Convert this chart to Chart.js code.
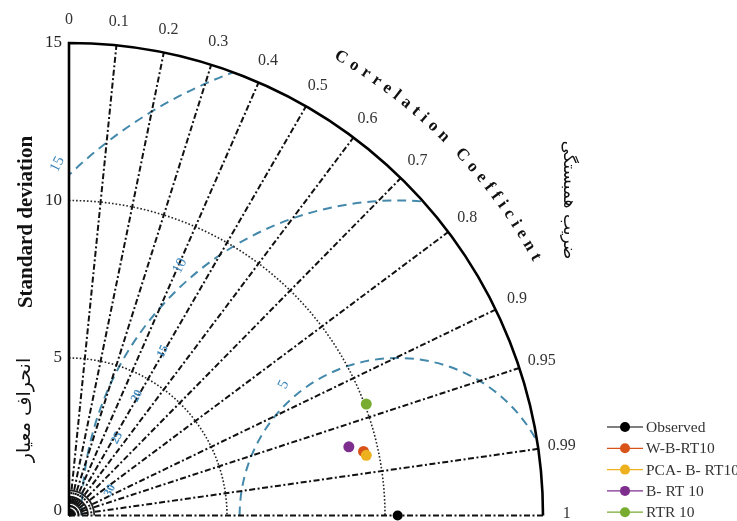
<!DOCTYPE html>
<html>
<head>
<meta charset="utf-8">
<script src="https://cdn.jsdelivr.net/npm/chart.js@4.4.1/dist/chart.umd.min.js"></script>
<style>
  html, body { margin: 0; padding: 0; background: #fff; }
  #wrap { width: 737px; height: 521px; }
</style>
</head>
<body>
<div id="wrap"><canvas id="taylor" width="737" height="521"></canvas></div>
<script>
// Taylor diagram data
const models = ['Observed', 'W-B-RT10', 'PCA- B- RT10', 'B- RT 10', 'RTR 10'];
const stdDevs = [10.4, 9.54, 9.60, 9.12, 10.05];
const correlations = [1, 0.977, 0.980, 0.971, 0.936];
const colors = ['#000000', '#D95319', '#EDB120', '#7E2F8E', '#77AC30'];
const drawOrder = [0, 2, 1, 0, 0];

const corrTicks = [0, 0.1, 0.2, 0.3, 0.4, 0.5, 0.6, 0.7, 0.8, 0.9, 0.95, 0.99, 1];
const stdTicks = [0, 5, 10, 15];
const stdArcs = [5, 10];
const rmsContours = [5, 10, 15];
const rmsLabels = ['5', '10', '15'];
const rmsLabelAngles = [131, 131, 134];
const extraRmsLabels = ['15', '20', '25', '30'];
const extraRmsPos = [[2.97, 5.21], [2.15, 3.79], [1.52, 2.46], [1.30, 0.79]];
const maxStd = 15;

const SERIF = '"Liberation Serif", "Times New Roman", serif';
const ARABIC = '"DejaVu Sans", sans-serif';

const datasets = models.map((name, i) => {
    const theta = Math.acos(correlations[i]);
    return {
        label: name,
        data: [{ x: stdDevs[i] * Math.cos(theta), y: stdDevs[i] * Math.sin(theta) }],
        backgroundColor: colors[i],
        borderColor: colors[i],
        pointRadius: i === 0 ? 5 : 5.5,
        pointBorderWidth: 0,
        order: drawOrder[i],
        clip: false
    };
});

// helper: polar (std, angle) -> pixel
function toPx(chart, r, ang) {
    const xs = chart.scales.x, ys = chart.scales.y;
    return [xs.getPixelForValue(r * Math.cos(ang)), ys.getPixelForValue(r * Math.sin(ang))];
}

const taylorGrid = {
    id: 'taylorGrid',
    beforeDatasetsDraw(chart) {
        const ctx = chart.ctx;
        const xs = chart.scales.x, ys = chart.scales.y;
        const ox = xs.getPixelForValue(0), oy = ys.getPixelForValue(0);
        const kx = xs.getPixelForValue(1) - ox, ky = oy - ys.getPixelForValue(1);

        ctx.save();
        // quarter-disc clip
        ctx.beginPath();
        ctx.moveTo(ox, oy);
        ctx.ellipse(ox, oy, maxStd * kx, maxStd * ky, 0, -Math.PI / 2, 0);
        ctx.closePath();
        ctx.save();
        ctx.clip();

        // RMS contours around the observed point
        const obs = stdDevs[0];
        ctx.strokeStyle = '#4489ab';
        ctx.lineWidth = 2;
        ctx.setLineDash([9, 6]);
        rmsContours.forEach(rr => {
            ctx.beginPath();
            ctx.ellipse(xs.getPixelForValue(obs), oy, rr * kx, rr * ky, 0, Math.PI, 2 * Math.PI);
            ctx.stroke();
        });
        ctx.restore();

        // std arcs (dotted)
        ctx.strokeStyle = '#222';
        ctx.lineWidth = 1.6;
        ctx.setLineDash([1.6, 2]);
        stdArcs.forEach(s => {
            ctx.beginPath();
            ctx.ellipse(ox, oy, s * kx, s * ky, 0, -Math.PI / 2, 0);
            ctx.stroke();
        });

        // small arcs near origin
        ctx.setLineDash([]);
        ctx.lineWidth = 1.8;
        [0.2, 0.4, 0.6, 0.8].forEach(s => {
            ctx.beginPath();
            ctx.ellipse(ox, oy, s * kx, s * ky, 0, -Math.PI / 2, 0);
            ctx.stroke();
        });

        // correlation rays (dash-dot)
        ctx.strokeStyle = '#111';
        ctx.lineWidth = 2;
        ctx.setLineDash([6, 2.5, 2, 2.5]);
        corrTicks.forEach(c => {
            if (c === 0) return;
            const a = Math.acos(c);
            const [px, py] = toPx(chart, maxStd, a);
            ctx.beginPath();
            ctx.moveTo(ox, oy);
            ctx.lineTo(px, py);
            ctx.stroke();
        });

        // outer arc + left axis
        ctx.setLineDash([]);
        ctx.lineWidth = 2.6;
        ctx.strokeStyle = '#000';
        ctx.beginPath();
        ctx.moveTo(ox, oy);
        ctx.lineTo(ox, ys.getPixelForValue(maxStd));
        ctx.ellipse(ox, oy, maxStd * kx, maxStd * ky, 0, -Math.PI / 2, 0);
        ctx.stroke();
        ctx.restore();

        // RMS labels
        ctx.save();
        ctx.fillStyle = '#3f88bd';
        ctx.font = '15px ' + SERIF;
        ctx.textAlign = 'center';
        ctx.textBaseline = 'middle';
        rmsContours.forEach((rr, i) => {
            const la = rmsLabelAngles[i] * Math.PI / 180;
            const lx = xs.getPixelForValue(obs + (rr + 0.5) * Math.cos(la));
            const ly = ys.getPixelForValue((rr + 0.5) * Math.sin(la));
            ctx.save();
            ctx.translate(lx, ly);
            ctx.rotate(-1.1);
            ctx.fillText(rmsLabels[i], 0, 0);
            ctx.restore();
        });
        ctx.font = 'bold 12px ' + SERIF;
        extraRmsLabels.forEach((t, i) => {
            ctx.save();
            ctx.translate(xs.getPixelForValue(extraRmsPos[i][0]), ys.getPixelForValue(extraRmsPos[i][1]));
            ctx.rotate(-1.1);
            ctx.fillText(t, 0, 0);
            ctx.restore();
        });
        ctx.restore();
    },
    afterDraw(chart) {
        const ctx = chart.ctx;
        const xs = chart.scales.x, ys = chart.scales.y;
        const ox = xs.getPixelForValue(0), oy = ys.getPixelForValue(0);
        ctx.save();

        // std tick labels
        ctx.fillStyle = '#222';
        ctx.font = '17px ' + SERIF;
        ctx.textAlign = 'right';
        ctx.textBaseline = 'middle';
        stdTicks.forEach(s => {
            ctx.fillText(String(s), ox - 7, Math.min(ys.getPixelForValue(s), 511));
        });

        // correlation tick labels
        ctx.font = '16px ' + SERIF;
        ctx.textAlign = 'center';
        ctx.fillStyle = '#333';
        corrTicks.forEach(c => {
            const [px, py] = toPx(chart, 15.75, Math.acos(c));
            ctx.fillText(String(c), px, Math.min(py, 514));
        });

        // axis titles
        ctx.fillStyle = '#111';
        ctx.font = 'bold 21px ' + SERIF;
        ctx.save();
        ctx.translate(27, 222);
        ctx.rotate(-Math.PI / 2);
        ctx.fillText('Standard deviation', 0, 0);
        ctx.restore();

        ctx.font = '19px ' + ARABIC;
        ctx.save();
        ctx.translate(25, 410);
        ctx.rotate(-Math.PI / 2);
        ctx.fillText('انحراف معیار', 0, 0);
        ctx.restore();

        ctx.font = '17px ' + ARABIC;
        ctx.save();
        ctx.translate(568, 200);
        ctx.rotate(Math.PI / 2);
        ctx.fillText('ضریب همبستگی', 0, 0);
        ctx.restore();

        // curved "Correlation Coefficient"
        const title = 'Correlation Coefficient';
        const R = 16.9;
        const spacing = 5.6;
        ctx.font = 'bold 17px ' + SERIF;
        const widths = [...title].map(ch => ctx.measureText(ch).width + spacing);
        const total = widths.reduce((a, b) => a + b, 0);
        const kx = xs.getPixelForValue(1) - ox;
        const Rpx = R * kx;
        const mid = 44.4 * Math.PI / 180;
        let ang = mid + (total / 2) / Rpx;
        [...title].forEach((ch, i) => {
            const a = ang - (widths[i] / 2) / Rpx;
            const [px, py] = toPx(chart, R, a);
            ctx.save();
            ctx.translate(px, py);
            ctx.rotate(Math.PI / 2 - a);
            ctx.fillText(ch, 0, 0);
            ctx.restore();
            ang -= widths[i] / Rpx;
        });

        // legend
        ctx.font = '15.5px ' + SERIF;
        ctx.textAlign = 'left';
        models.forEach((name, i) => {
            const y = 427 + i * 21.3;
            ctx.strokeStyle = colors[i];
            ctx.lineWidth = 1.2;
            ctx.beginPath();
            ctx.moveTo(607, y);
            ctx.lineTo(643, y);
            ctx.stroke();
            ctx.fillStyle = colors[i];
            ctx.beginPath();
            ctx.arc(625, y, 5, 0, 2 * Math.PI);
            ctx.fill();
            ctx.fillStyle = '#333';
            ctx.fillText(name, 646, y + 1);
        });
        ctx.restore();
    }
};

new Chart(document.getElementById('taylor'), {
    type: 'scatter',
    data: { datasets: datasets },
    options: {
        responsive: false,
        devicePixelRatio: 1,
        animation: false,
        layout: { padding: { left: 69, right: 194, top: 43, bottom: 3 } },
        scales: {
            x: { type: 'linear', min: 0, max: maxStd, display: false },
            y: { type: 'linear', min: 0, max: maxStd, display: false }
        },
        plugins: {
            legend: { display: false },
            tooltip: { enabled: false }
        }
    },
    plugins: [taylorGrid]
});
</script>
</body>
</html>
